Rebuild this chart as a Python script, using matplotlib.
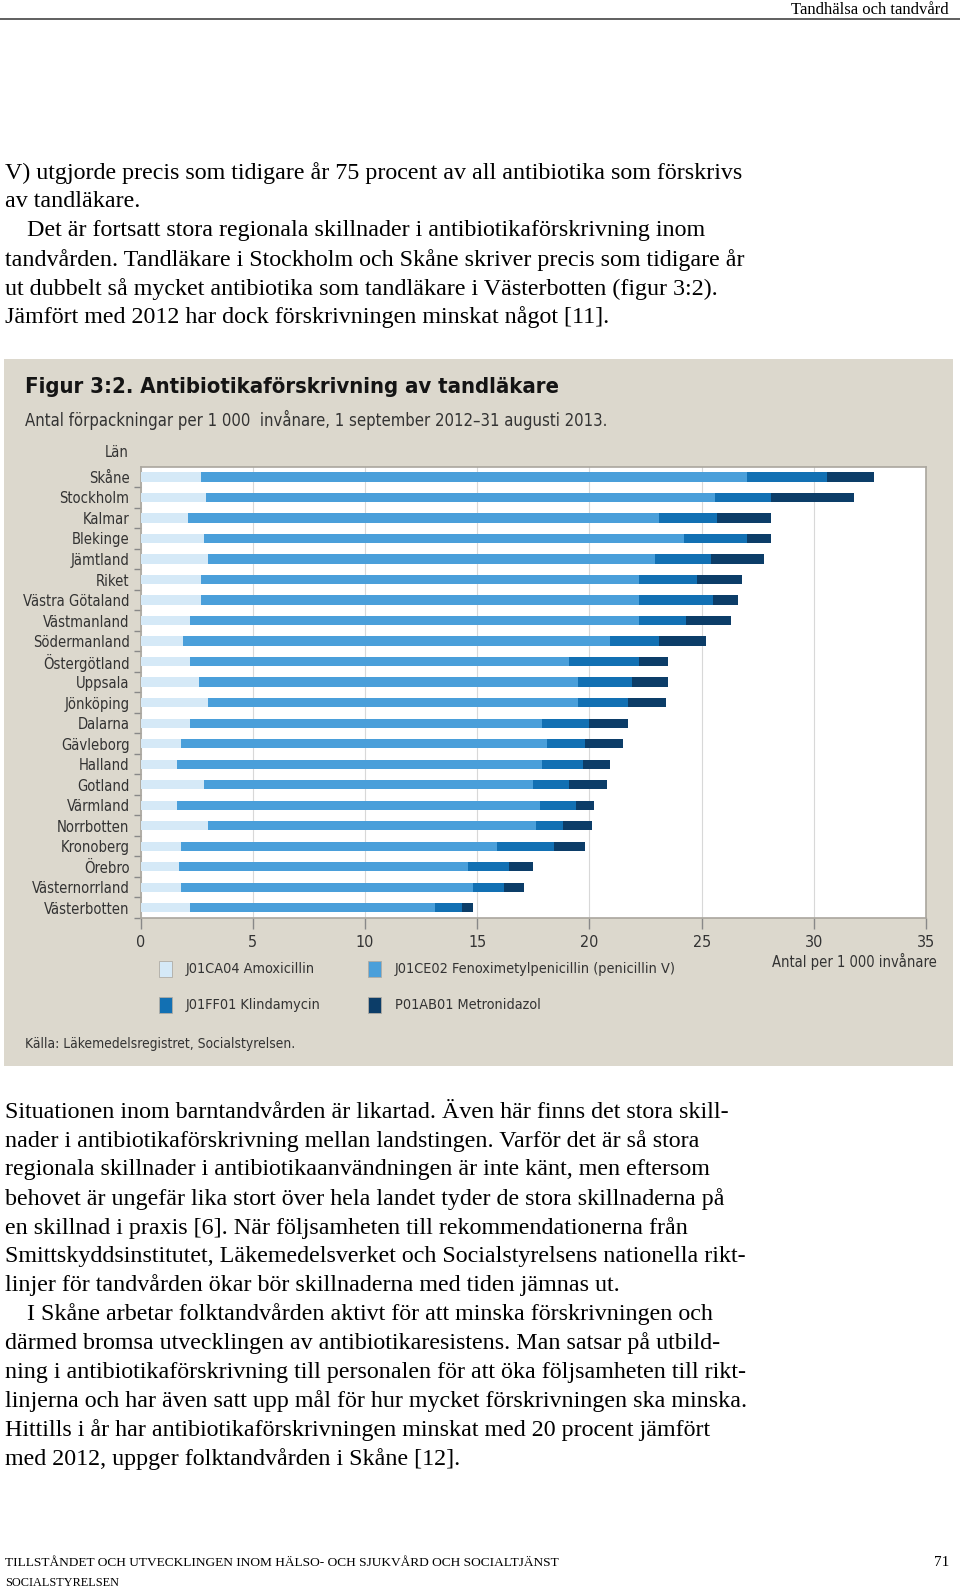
import matplotlib.pyplot as plt
from matplotlib.patches import Rectangle
import numpy as np

# Län, uppifrån och ned
lan = ['Skåne', 'Stockholm', 'Kalmar', 'Blekinge', 'Jämtland', 'Riket',
       'Västra Götaland', 'Västmanland', 'Södermanland', 'Östergötland',
       'Uppsala', 'Jönköping', 'Dalarna', 'Gävleborg', 'Halland', 'Gotland',
       'Värmland', 'Norrbotten', 'Kronoberg', 'Örebro', 'Västernorrland',
       'Västerbotten']

# Antal förpackningar per 1 000 invånare
amoxicillin = [2.7, 2.9, 2.1, 2.8, 3.0, 2.7, 2.7, 2.2, 1.9, 2.2, 2.6, 3.0,
               2.2, 1.8, 1.6, 2.8, 1.6, 3.0, 1.8, 1.7, 1.8, 2.2]
penicillin_v = [24.3, 22.7, 21.0, 21.4, 19.9, 19.5, 19.5, 20.0, 19.0, 16.9,
                16.9, 16.5, 15.7, 16.3, 16.3, 14.7, 16.2, 14.6, 14.1, 12.9,
                13.0, 10.9]
klindamycin = [3.6, 2.5, 2.6, 2.8, 2.5, 2.6, 3.3, 2.1, 2.2, 3.1, 2.4, 2.2,
               2.1, 1.7, 1.8, 1.6, 1.6, 1.2, 2.5, 1.8, 1.4, 1.2]
metronidazol = [2.1, 3.7, 2.4, 1.1, 2.4, 2.0, 1.1, 2.0, 2.1, 1.3, 1.6, 1.7,
                1.7, 1.7, 1.2, 1.7, 0.8, 1.3, 1.4, 1.1, 0.9, 0.5]

serier = ['J01CA04 Amoxicillin', 'J01CE02 Fenoximetylpenicillin (penicillin V)',
          'J01FF01 Klindamycin', 'P01AB01 Metronidazol']
farger = ['#d5e9f7', '#4a9fda', '#1270b3', '#0c3d68']

W, H = 960, 1591
fig = plt.figure(figsize=(W / 100, H / 100), dpi=100)
fig.patch.set_facecolor('white')


def fx(x):
    return x / W


def fy(y):
    return 1 - y / H


serif = ['Liberation Serif', 'DejaVu Serif']
sans = ['DejaVu Sans']
cond = dict(family=sans, fontstretch='condensed')

# sidhuvud
fig.text(fx(949), fy(10), 'Tandhälsa och tandvård', family=serif, fontsize=12,
         ha='right', va='center')
fig.add_artist(plt.Line2D([0, 1], [fy(19), fy(19)], color='#444444', lw=1.2))

# brödtext överst
stycke1 = [
    ('V) utgjorde precis som tidigare år 75 procent av all antibiotika som förskrivs', 5),
    ('av tandläkare.', 5),
    ('Det är fortsatt stora regionala skillnader i antibiotikaförskrivning inom', 27),
    ('tandvården. Tandläkare i Stockholm och Skåne skriver precis som tidigare år', 5),
    ('ut dubbelt så mycket antibiotika som tandläkare i Västerbotten (figur 3:2).', 5),
    ('Jämfört med 2012 har dock förskrivningen minskat något [11].', 5),
]
for i, (rad, x0) in enumerate(stycke1):
    fig.text(fx(x0), fy(173 + i * 28.9), rad, family=serif, fontsize=17.3,
             ha='left', va='center')

# figurruta
fig.patches.append(Rectangle((fx(4), fy(1066)), fx(953) - fx(4), fy(359) - fy(1066),
                             transform=fig.transFigure, facecolor='#dcd8cd',
                             edgecolor='none', zorder=-5))
fig.text(fx(25), fy(387), 'Figur 3:2. Antibiotikaförskrivning av tandläkare',
         fontsize=15.8, fontweight='bold', color='#141414',
         ha='left', va='center', **cond)
fig.text(fx(25), fy(420), 'Antal förpackningar per 1 000  invånare, 1 september 2012–31 augusti 2013.',
         fontsize=12, color='#333333', ha='left', va='center', **cond)
fig.text(fx(129), fy(452), 'Län', fontsize=10.5, color='#333333',
         ha='right', va='center', **cond)

ax = fig.add_axes([fx(140.7), fy(918), fx(926) - fx(140.7), fy(466.7) - fy(918)])
ax.set_zorder(1)
ax.set_facecolor('white')
y = np.arange(len(lan))
left = np.zeros(len(lan))
for vals, farg in zip([amoxicillin, penicillin_v, klindamycin, metronidazol], farger):
    ax.barh(y, vals, left=left, height=0.45, color=farg, zorder=3)
    left = left + np.array(vals)

ax.set_xlim(0, 35)
ax.set_ylim(len(lan) - 0.5, -0.5)
ax.set_xticks(range(0, 36, 5))
ax.set_xticklabels([str(v) for v in range(0, 36, 5)], fontsize=11.5,
                   color='#333333', **cond)
ax.set_yticks(y)
ax.set_yticklabels(lan, fontsize=10.6, color='#333333', **cond)
ax.set_yticks(np.arange(len(lan)) + 0.5, minor=True)
ax.tick_params(axis='y', which='major', length=0, pad=8)
ax.tick_params(axis='y', which='minor', length=5, color='#888888', width=1)
ax.tick_params(axis='x', length=8, color='#888888', width=1, pad=4)
ax.grid(axis='x', color='#d8d8d8', lw=0.8, zorder=0)
for s in ax.spines.values():
    s.set_color('#aaa69e')
    s.set_linewidth(1.2)

fig.text(fx(937), fy(961), 'Antal per 1 000 invånare', fontsize=10.5,
         color='#333333', ha='right', va='center', **cond)

# teckenförklaring
leg_pos = [(159, 969), (368, 969), (159, 1005), (368, 1005)]
for (lx, ly), namn, farg in zip(leg_pos, serier, farger):
    fig.patches.append(Rectangle((fx(lx), fy(ly + 8)), fx(13), 16 / H,
                                 transform=fig.transFigure, facecolor=farg,
                                 edgecolor='#b0aca4', lw=0.6, zorder=2))
    fig.text(fx(lx + 27), fy(ly), namn, fontsize=10.4,
             color='#333333', ha='left', va='center', **cond)

fig.text(fx(25), fy(1044), 'Källa: Läkemedelsregistret, Socialstyrelsen.',
         fontsize=9.9, color='#333333', ha='left', va='center', **cond)

# brödtext under figuren
stycke2 = [
    ('Situationen inom barntandvården är likartad. Även här finns det stora skill-', 5),
    ('nader i antibiotikaförskrivning mellan landstingen. Varför det är så stora', 5),
    ('regionala skillnader i antibiotikaanvändningen är inte känt, men eftersom', 5),
    ('behovet är ungefär lika stort över hela landet tyder de stora skillnaderna på', 5),
    ('en skillnad i praxis [6]. När följsamheten till rekommendationerna från', 5),
    ('Smittskyddsinstitutet, Läkemedelsverket och Socialstyrelsens nationella rikt-', 5),
    ('linjer för tandvården ökar bör skillnaderna med tiden jämnas ut.', 5),
    ('I Skåne arbetar folktandvården aktivt för att minska förskrivningen och', 27),
    ('därmed bromsa utvecklingen av antibiotikaresistens. Man satsar på utbild-', 5),
    ('ning i antibiotikaförskrivning till personalen för att öka följsamheten till rikt-', 5),
    ('linjerna och har även satt upp mål för hur mycket förskrivningen ska minska.', 5),
    ('Hittills i år har antibiotikaförskrivningen minskat med 20 procent jämfört', 5),
    ('med 2012, uppger folktandvården i Skåne [12].', 5),
]
for i, (rad, x0) in enumerate(stycke2):
    fig.text(fx(x0), fy(1112 + i * 28.9), rad, family=serif, fontsize=17.3,
             ha='left', va='center')

# sidfot
fig.text(fx(5), fy(1563), 'TILLSTÅNDET OCH UTVECKLINGEN INOM HÄLSO- OCH SJUKVÅRD OCH SOCIALTJÄNST',
         family=serif, fontsize=9.6, ha='left', va='center')
fig.text(fx(5), fy(1583), 'SOCIALSTYRELSEN', family=serif, fontsize=8.8,
         ha='left', va='center')
fig.text(fx(949), fy(1563), '71', family=serif, fontsize=11, ha='right', va='center')

fig.savefig('out.png', dpi=100)
